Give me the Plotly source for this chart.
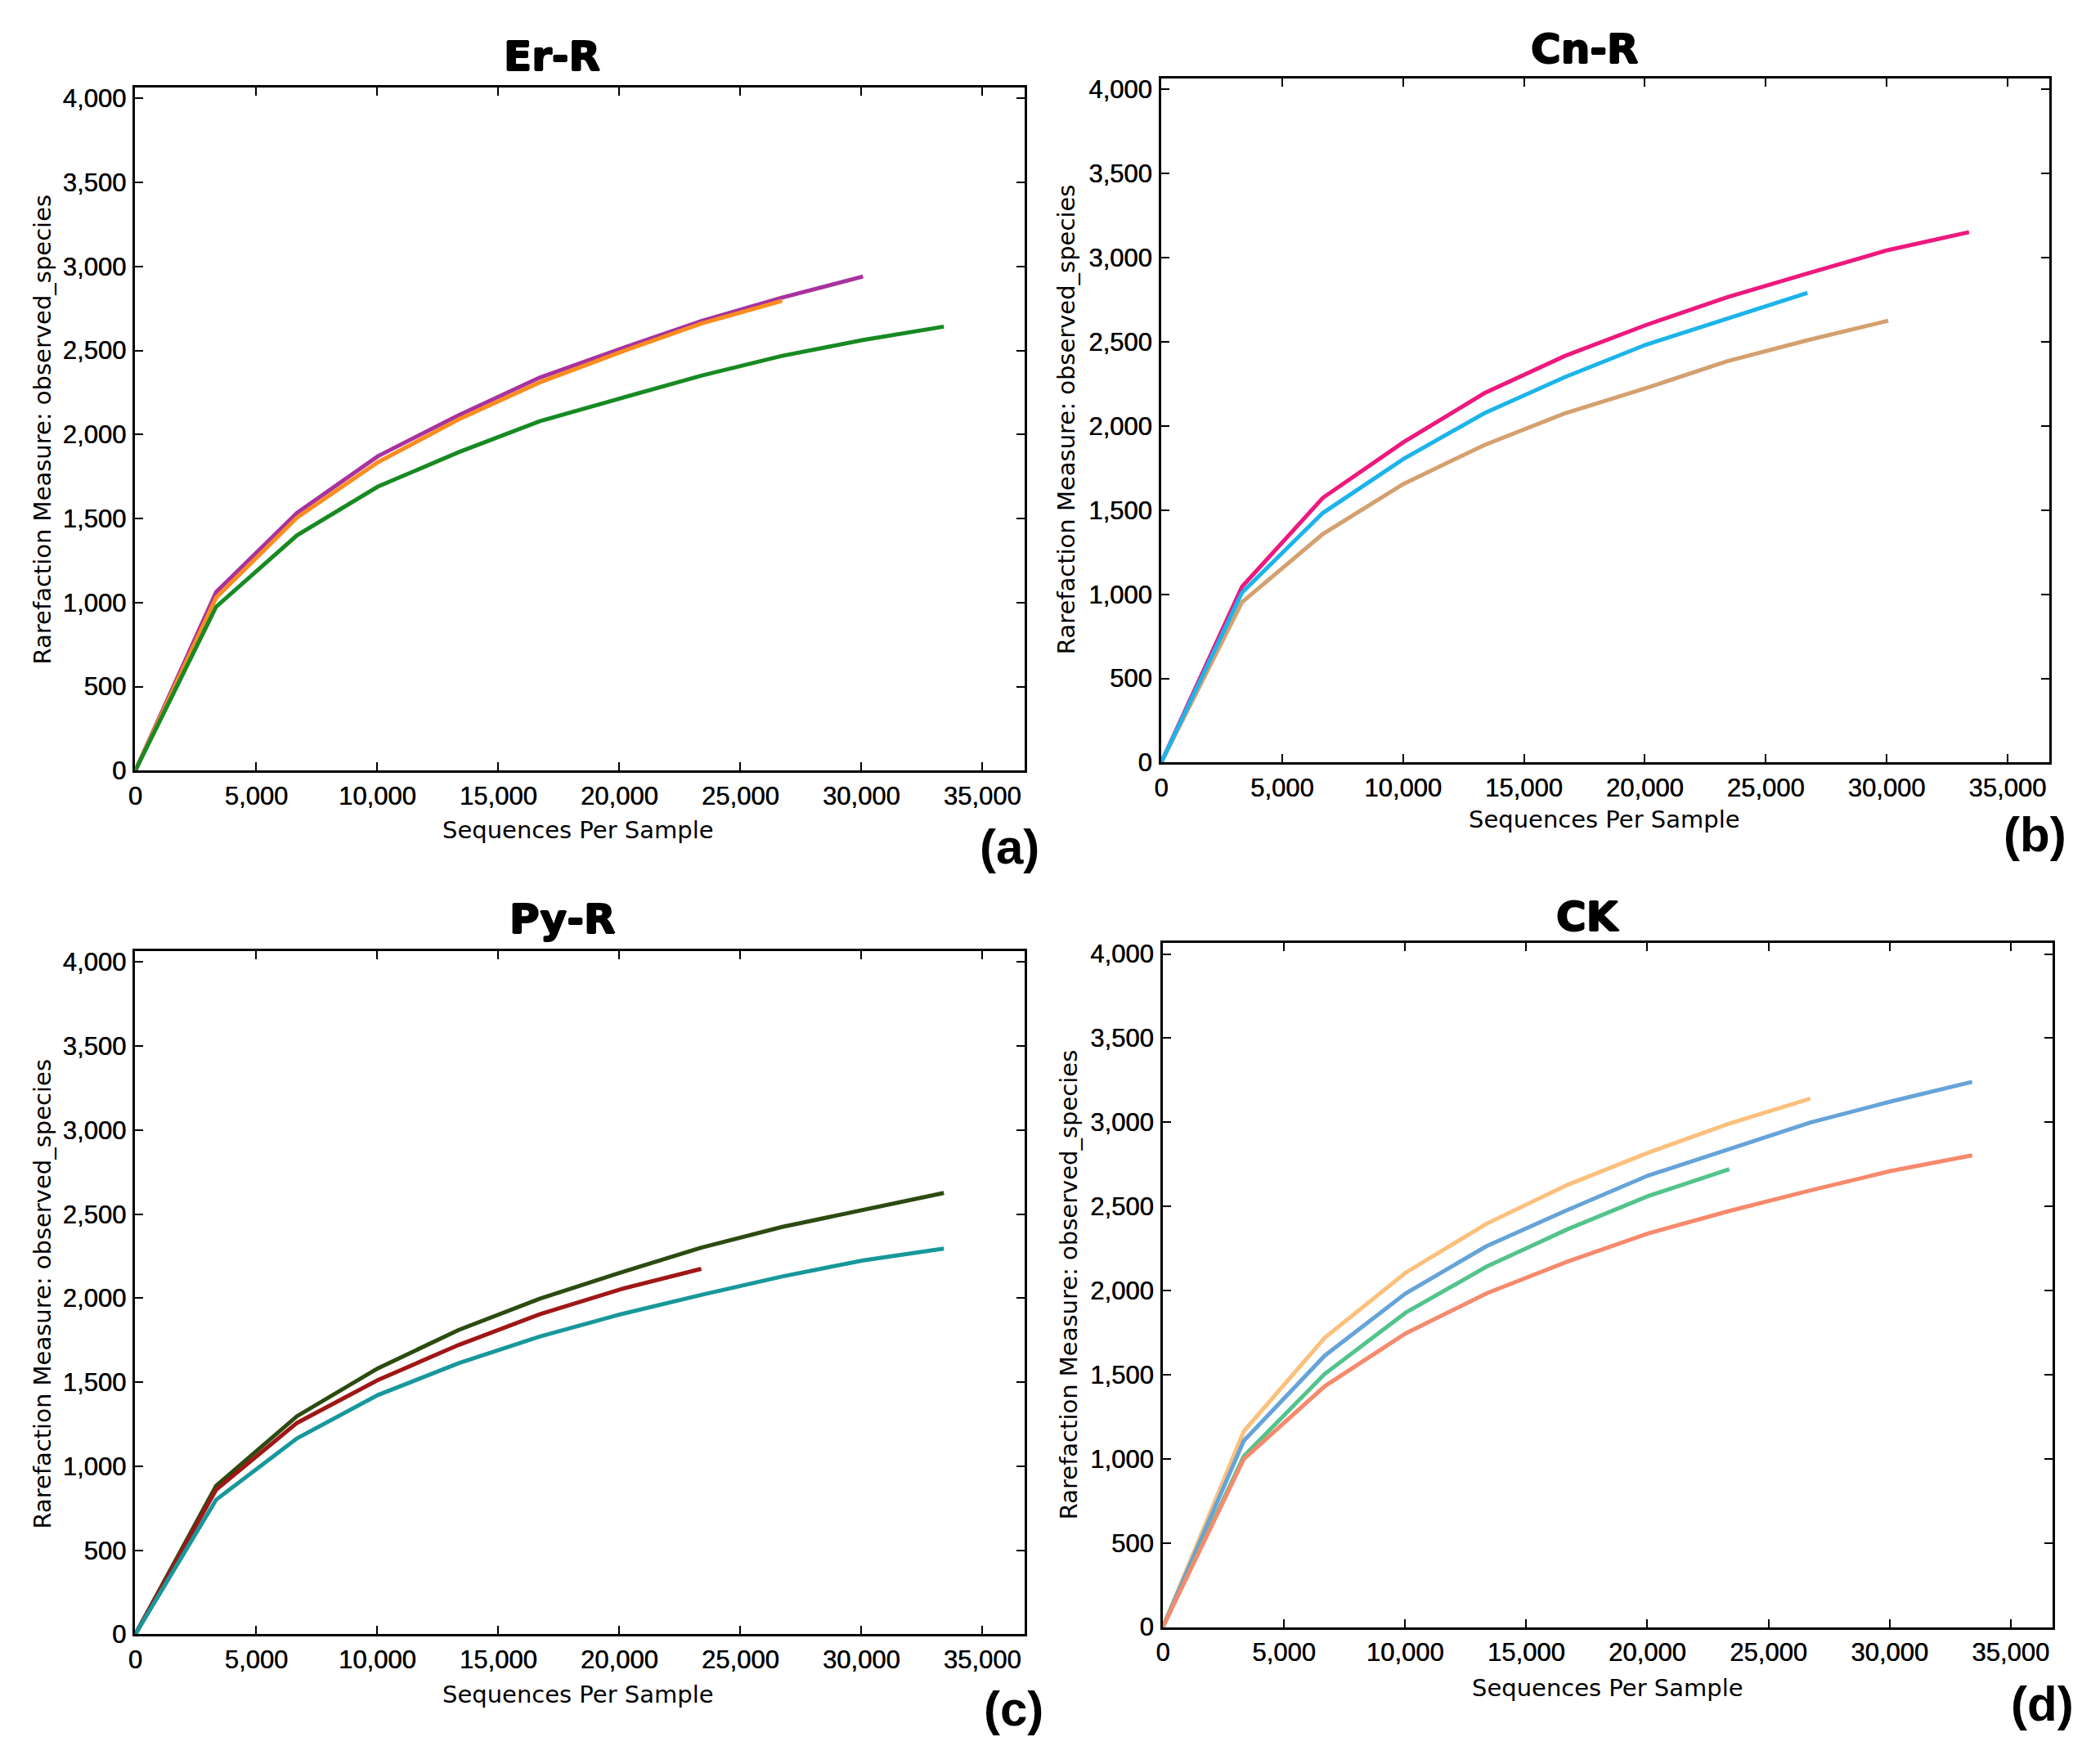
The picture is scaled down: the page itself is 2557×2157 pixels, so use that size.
import plotly.graph_objects as go

# ---------------- data ----------------
seq_depths = [0, 3341, 6682, 10023, 13364, 16705, 20046, 23387, 26728, 30069, 33410]

panel_titles = ["Er-R", "Cn-R", "Py-R", "CK"]
panel_letters = ["(a)", "(b)", "(c)", "(d)"]

# (a) Er-R
er_purple = [0, 1063, 1533, 1871, 2115, 2338, 2510, 2675, 2815, 2940]
er_orange = [0, 1030, 1505, 1835, 2090, 2310, 2490, 2660, 2795]
er_green = [0, 975, 1400, 1690, 1895, 2079, 2215, 2350, 2468, 2562, 2642]

# (b) Cn-R
cn_pink = [0, 1045, 1573, 1904, 2195, 2417, 2600, 2765, 2907, 3046, 3152]
cn_cyan = [0, 1010, 1483, 1805, 2076, 2291, 2483, 2639, 2791]
cn_tan = [0, 953, 1358, 1656, 1887, 2076, 2225, 2384, 2510, 2626]

# (c) Py-R
py_darkgreen = [0, 884, 1298, 1583, 1811, 1997, 2152, 2301, 2424, 2526, 2626]
py_darkred = [0, 861, 1258, 1513, 1722, 1904, 2053, 2175]
py_teal = [0, 801, 1166, 1424, 1613, 1772, 1904, 2020, 2129, 2225, 2295]

# (d) CK
ck_lightorange = [0, 1164, 1719, 2106, 2397, 2628, 2820, 2992, 3140]
ck_blue = [0, 1107, 1613, 1983, 2264, 2479, 2684, 2843, 2998, 3124, 3240]
ck_green = [0, 1015, 1504, 1868, 2142, 2364, 2562, 2721]
ck_salmon = [0, 998, 1431, 1745, 1983, 2172, 2340, 2473, 2595, 2711, 2803]

x_tickvals = [0, 5000, 10000, 15000, 20000, 25000, 30000, 35000]
y_tickvals = [0, 500, 1000, 1500, 2000, 2500, 3000, 3500, 4000]

panels_series = [
    [(er_purple, "#a8329e"), (er_orange, "#fb8c1e"), (er_green, "#178a22")],
    [(cn_pink, "#ee187e"), (cn_tan, "#d4a06e"), (cn_cyan, "#1cb4ea")],
    [(py_darkgreen, "#2c4b10"), (py_darkred, "#a01616"), (py_teal, "#17989b")],
    [(ck_lightorange, "#fcc07c"), (ck_blue, "#66a3d9"), (ck_green, "#52c48b"), (ck_salmon, "#f7896c")],
]

# ---------------- layout (pixel geometry) ----------------
W, H = 2557, 2157
# plot boxes: left, right, top, bottom (px)
boxes = [
    (157, 1248, 104, 948),
    (1416, 2506, 93, 938),
    (157, 1248, 1171, 2015),
    (1418, 2510, 1161, 2006),
]
title_pos = [(668, 66), (1936, 57), (681, 1132), (1940, 1129)]
xtitle_pos = [(700, 1021), (1960, 1008), (700, 2089), (1964, 2081)]
ytitle_pos = [(43, 526), (1299, 514), (43, 1594), (1302, 1583)]
letter_pos = [(1230, 1042), (2488, 1027), (1235, 2107), (2497, 2101)]

X_MAX = 36735
Y_MAX = 4065


def px(xp):
    return xp / W


def py(yp):
    return 1 - yp / H


fig = go.Figure()
annotations = []
heavy = "1px 0 0 black, -1px 0 0 black, 0 1px 0 black, 0 -1px 0 black"
semi = "0.4px 0 0 black"

for i in range(4):
    xa = "x" if i == 0 else f"x{i+1}"
    ya = "y" if i == 0 else f"y{i+1}"
    for vals, color in panels_series[i]:
        fig.add_trace(go.Scatter(
            x=seq_depths[:len(vals)], y=vals, mode="lines",
            line=dict(color=color, width=5),
            xaxis=xa, yaxis=ya, showlegend=False, hoverinfo="skip",
        ))
    l, r, t, b = boxes[i]
    axis_common = dict(
        showline=True, linecolor="black", linewidth=3, mirror="ticks",
        ticks="inside", ticklen=10, tickwidth=2, tickcolor="black",
        showgrid=False, zeroline=False,
        tickfont=dict(family="Liberation Sans, Arial, sans-serif", size=31, color="black",
                      shadow=semi),
        tickformat=",d", fixedrange=True,
    )
    xkey = "xaxis" if i == 0 else f"xaxis{i+1}"
    ykey = "yaxis" if i == 0 else f"yaxis{i+1}"
    fig.layout[xkey] = dict(
        domain=[px(l), px(r)], range=[0, X_MAX], tickvals=x_tickvals,
        anchor=ya, ticklabelstandoff=1, **axis_common,
    )
    fig.layout[ykey] = dict(
        domain=[py(b), py(t)], range=[0, Y_MAX], tickvals=y_tickvals,
        anchor=xa, ticklabelstandoff=2, **axis_common,
    )

    tx, ty = title_pos[i]
    annotations.append(dict(
        x=px(tx), y=py(ty), xref="paper", yref="paper", text=f"<b>{panel_titles[i]}</b>",
        showarrow=False, xanchor="center", yanchor="middle",
        font=dict(family="DejaVu Sans, sans-serif", size=50, color="black", shadow=heavy),
    ))
    sx, sy = xtitle_pos[i]
    annotations.append(dict(
        x=px(sx), y=py(sy), xref="paper", yref="paper", text="Sequences Per Sample",
        showarrow=False, xanchor="center", yanchor="middle",
        font=dict(family="DejaVu Sans, sans-serif", size=29, color="black"),
    ))
    qx, qy = ytitle_pos[i]
    annotations.append(dict(
        x=px(qx), y=py(qy), xref="paper", yref="paper",
        text="Rarefaction Measure: observed_species", textangle=-90,
        showarrow=False, xanchor="center", yanchor="middle",
        font=dict(family="DejaVu Sans, sans-serif", size=29, color="black"),
    ))
    lx, ly = letter_pos[i]
    annotations.append(dict(
        x=px(lx), y=py(ly), xref="paper", yref="paper", text=f"<b>{panel_letters[i]}</b>",
        showarrow=False, xanchor="center", yanchor="middle",
        font=dict(family="Liberation Sans Narrow, Arial Narrow, Liberation Sans, sans-serif",
                  size=60, color="black"),
    ))

fig.update_layout(
    width=W, height=H, autosize=False,
    margin=dict(l=0, r=0, t=0, b=0),
    paper_bgcolor="white", plot_bgcolor="white",
    annotations=annotations, showlegend=False,
)

fig.write_html(
    "out.html",
    config={"displayModeBar": False},
    post_script="document.body.style.margin='0';document.body.style.overflow='hidden';",
)
